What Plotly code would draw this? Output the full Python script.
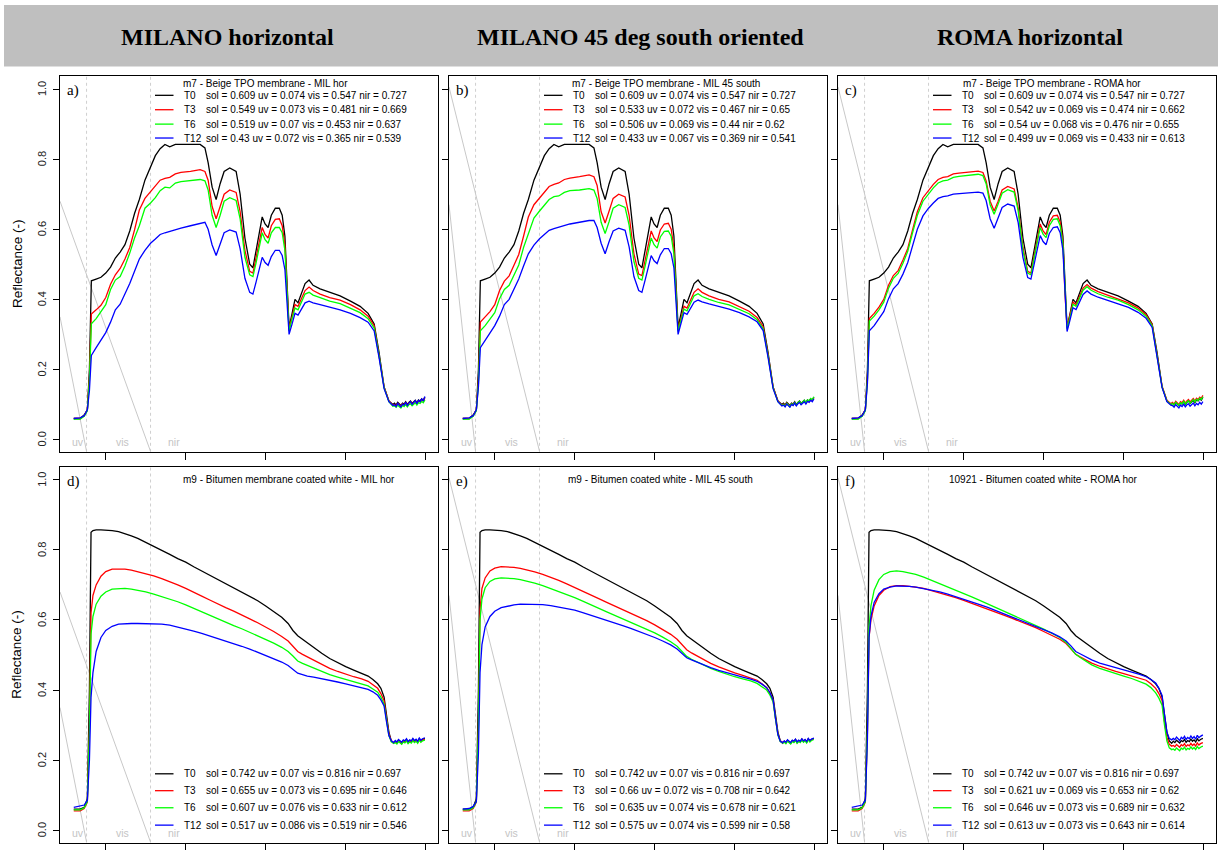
import plotly.graph_objects as go

W, H = 1218, 850

# ---------------- data ----------------
series_names = ["T0", "T3", "T6", "T12"]
series_colors = ["#000000", "#ff0000", "#00ff00", "#0000ff"]

header_titles = ["MILANO horizontal", "MILANO 45 deg south oriented", "ROMA horizontal"]
panel_tags = ["a)", "b)", "c)", "d)", "e)", "f)"]
panel_titles = [
    "m7 - Beige TPO membrane - MIL hor",
    "m7 - Beige TPO membrane - MIL 45 south",
    "m7 - Beige TPO membrane - ROMA hor",
    "m9 - Bitumen membrane coated white - MIL hor",
    "m9 - Bitumen coated white - MIL 45 south",
    "10921 - Bitumen coated white - ROMA hor",
]

# spectral band limits (nm) and band label positions
band_edges = [380, 780]
band_labels = ["uv", "vis", "nir"]
band_label_x = [327, 602, 927]

# wavelength grids (nm)
wl_tpo = [300, 340, 365, 385, 398, 410, 440, 470, 500, 530,
          560, 590, 620, 650, 680, 710, 745, 780, 810, 840,
          870, 900, 935, 970, 1030, 1090, 1120, 1140, 1165, 1190,
          1215, 1240, 1275, 1315, 1340, 1370, 1400, 1420, 1440, 1460,
          1478, 1496, 1515, 1535, 1560, 1585, 1603, 1620, 1633, 1646,
          1665, 1683, 1702, 1722, 1746, 1771, 1796, 1840, 1900, 1965,
          2030, 2090, 2140, 2178, 2208, 2240, 2270, 2295,
          2305, 2315, 2325, 2335, 2345, 2355, 2365, 2375, 2385, 2395,
          2405, 2415, 2425, 2435, 2445, 2455, 2465, 2475, 2485, 2495]

wl_bit = [300, 340, 365, 385, 398, 408, 420, 440, 470, 500,
          540, 580, 620, 660, 700, 750, 800, 850, 900, 950,
          1000, 1050, 1100, 1150, 1200, 1250, 1300, 1350, 1400, 1450,
          1500, 1550, 1600, 1640, 1670, 1700, 1730, 1760, 1800, 1850,
          1900, 1950, 2000, 2050, 2100, 2140, 2170, 2200, 2220, 2240,
          2255, 2270, 2285, 2300,
          2310, 2320, 2330, 2340, 2350, 2360, 2370, 2380, 2390, 2400,
          2410, 2420, 2430, 2440, 2450, 2460, 2470, 2480, 2495]

# m7 Beige TPO membrane - reflectance
tpo_T0 = [.060, .060, .070, .085, .200, .453, .458, .463, .475, .492,
          .518, .535, .556, .595, .645, .685, .740, .775, .810, .830,
          .842, .835, .842, .842, .842, .842, .832, .790, .720, .685,
          .730, .765, .775, .765, .700, .575, .500, .490, .540, .590,
          .635, .615, .605, .640, .660, .660, .640, .580, .430, .320,
          .360, .400, .390, .415, .445, .455, .440, .430, .420, .410,
          .395, .380, .360, .330, .250, .150, .110, .100,
          .104, .098, .106, .100, .097, .104, .101, .108, .100, .106,
          .110, .103, .109, .112, .105, .113, .110, .116, .112, .121]

mil_hor_T3 = [.060, .060, .068, .085, .180, .358, .370, .383, .405, .443,
              .470, .488, .515, .548, .598, .655, .688, .708, .725, .740,
              .745, .748, .758, .762, .765, .770, .765, .740, .665, .630,
              .665, .700, .712, .705, .650, .540, .480, .475, .520, .565,
              .605, .585, .575, .610, .628, .630, .610, .555, .410, .315,
              .350, .385, .380, .400, .425, .435, .425, .415, .405, .398,
              .385, .370, .352, .325, .245, .150, .110, .098,
              .100, .096, .103, .098, .095, .102, .099, .105, .098, .104,
              .107, .101, .106, .110, .103, .110, .108, .114, .110, .118]
mil_hor_T6 = [.058, .058, .066, .082, .170, .330, .345, .365, .385, .428,
              .455, .465, .495, .532, .575, .610, .660, .675, .690, .710,
              .720, .718, .732, .736, .738, .742, .738, .712, .640, .605,
              .640, .680, .690, .682, .630, .520, .470, .465, .505, .550,
              .590, .570, .560, .590, .605, .605, .590, .540, .400, .310,
              .345, .375, .370, .390, .415, .420, .412, .405, .395, .388,
              .375, .362, .345, .318, .240, .148, .108, .095,
              .096, .092, .098, .094, .090, .097, .094, .100, .093, .099,
              .102, .096, .101, .105, .098, .105, .103, .109, .105, .113]
mil_hor_T12 = [.060, .062, .068, .085, .140, .240, .262, .285, .305, .335,
               .370, .386, .415, .445, .480, .515, .540, .560, .572, .585,
               .590, .594, .600, .603, .610, .618, .620, .600, .555, .525,
               .560, .590, .598, .592, .545, .460, .420, .415, .450, .490,
               .520, .505, .497, .522, .540, .540, .525, .485, .380, .300,
               .330, .360, .355, .370, .390, .395, .390, .385, .378, .370,
               .360, .348, .335, .310, .235, .145, .108, .097,
               .099, .094, .103, .097, .093, .101, .098, .106, .097, .104,
               .108, .100, .107, .111, .102, .112, .108, .116, .110, .123]

mil_45_T3 = [.060, .060, .068, .085, .170, .335, .350, .365, .385, .425,
             .452, .467, .497, .528, .580, .635, .670, .690, .708, .722,
             .728, .732, .742, .746, .750, .755, .750, .725, .650, .618,
             .652, .688, .700, .692, .640, .530, .472, .468, .512, .556,
             .595, .575, .565, .598, .615, .617, .600, .545, .405, .312,
             .347, .380, .375, .395, .420, .430, .420, .410, .400, .393,
             .380, .366, .348, .322, .243, .150, .110, .098,
             .101, .096, .104, .098, .095, .103, .099, .106, .098, .104,
             .108, .101, .107, .110, .104, .111, .108, .114, .111, .118]
mil_45_T6 = [.058, .058, .066, .082, .160, .310, .325, .343, .362, .402,
             .428, .440, .468, .498, .548, .588, .632, .652, .668, .685,
             .693, .695, .705, .710, .712, .716, .712, .688, .620, .588,
             .622, .660, .670, .662, .612, .508, .460, .455, .495, .538,
             .575, .556, .546, .578, .594, .595, .580, .530, .395, .308,
             .342, .372, .367, .386, .410, .416, .408, .400, .391, .384,
             .372, .359, .342, .316, .240, .148, .108, .097,
             .100, .095, .103, .097, .094, .102, .099, .106, .098, .105,
             .109, .102, .108, .112, .105, .113, .110, .117, .113, .122]
mil_45_T12 = [.060, .062, .068, .085, .150, .262, .283, .305, .325, .352,
              .385, .400, .428, .458, .495, .530, .555, .573, .585, .597,
              .602, .606, .612, .615, .620, .625, .625, .605, .560, .530,
              .565, .595, .603, .597, .550, .465, .425, .420, .455, .495,
              .525, .510, .502, .527, .545, .545, .530, .490, .383, .300,
              .332, .362, .357, .372, .392, .398, .393, .387, .380, .372,
              .362, .350, .336, .311, .236, .145, .108, .096,
              .098, .093, .101, .096, .092, .100, .097, .104, .096, .102,
              .106, .099, .105, .108, .101, .109, .106, .112, .108, .116]

roma_hor_T3 = [.060, .060, .068, .085, .175, .345, .360, .378, .400, .440,
               .468, .482, .512, .545, .598, .650, .690, .712, .728, .742,
               .748, .750, .758, .760, .763, .766, .762, .738, .680, .652,
               .680, .712, .722, .715, .662, .548, .480, .475, .525, .575,
               .615, .595, .585, .620, .638, .640, .620, .565, .415, .320,
               .355, .392, .385, .405, .432, .442, .432, .422, .412, .403,
               .390, .375, .356, .328, .248, .152, .112, .102,
               .106, .101, .109, .104, .100, .108, .105, .112, .104, .110,
               .114, .107, .113, .117, .110, .118, .114, .121, .117, .126]
roma_hor_T6 = [.058, .058, .066, .082, .170, .338, .352, .370, .392, .432,
               .460, .474, .503, .537, .590, .640, .680, .702, .718, .732,
               .738, .740, .748, .751, .754, .757, .753, .730, .670, .643,
               .672, .703, .713, .706, .654, .540, .475, .470, .518, .566,
               .605, .586, .576, .610, .628, .630, .610, .557, .410, .315,
               .350, .386, .380, .400, .426, .436, .426, .416, .406, .398,
               .385, .370, .352, .325, .245, .150, .110, .100,
               .103, .098, .106, .101, .097, .105, .102, .109, .101, .107,
               .111, .104, .110, .114, .107, .115, .111, .118, .114, .122]
roma_hor_T12 = [.060, .062, .068, .085, .160, .310, .325, .345, .365, .402,
                .430, .445, .472, .505, .555, .600, .638, .660, .675, .688,
                .693, .695, .700, .702, .704, .706, .703, .682, .630, .603,
                .632, .662, .672, .666, .620, .520, .462, .458, .500, .545,
                .582, .565, .556, .588, .605, .607, .590, .540, .400, .308,
                .342, .376, .371, .390, .414, .424, .415, .406, .397, .389,
                .377, .363, .346, .320, .242, .148, .108, .098,
                .097, .092, .100, .095, .090, .098, .094, .101, .093, .099,
                .102, .095, .100, .104, .096, .103, .099, .106, .101, .108]

# m9 / 10921 bitumen coated white - reflectance
bit_T0 = [.060, .060, .065, .090, .400, .850, .855, .857, .857, .857,
          .855, .852, .847, .840, .833, .822, .810, .798, .787, .775,
          .765, .752, .740, .727, .715, .703, .692, .680, .668, .655,
          .640, .625, .608, .590, .570, .555, .545, .535, .520, .505,
          .490, .478, .467, .457, .448, .440, .430, .418, .405, .380,
          .330, .280, .255, .248,
          .254, .250, .257, .252, .249, .256, .253, .259, .251, .256,
          .253, .260, .254, .258, .252, .261, .255, .259, .262]

bit_mil_hor_T3 = [.055, .055, .062, .080, .300, .620, .670, .700, .725, .738,
                  .745, .746, .745, .742, .738, .732, .726, .718, .710, .700,
                  .690, .680, .668, .657, .645, .635, .625, .615, .603, .592,
                  .580, .567, .553, .540, .525, .510, .502, .495, .485, .473,
                  .462, .453, .445, .438, .432, .425, .415, .405, .390, .370,
                  .320, .275, .255, .250,
                  .252, .248, .255, .250, .247, .254, .251, .257, .249, .254,
                  .251, .258, .252, .256, .250, .259, .253, .257, .260]
bit_mil_hor_T6 = [.058, .058, .064, .082, .280, .560, .610, .645, .668, .680,
                  .688, .690, .690, .688, .685, .680, .674, .667, .660, .652,
                  .643, .633, .622, .612, .603, .593, .584, .575, .565, .555,
                  .545, .534, .522, .510, .497, .483, .476, .470, .462, .452,
                  .444, .437, .430, .424, .418, .412, .403, .394, .380, .360,
                  .315, .270, .252, .248,
                  .250, .246, .253, .248, .245, .252, .249, .255, .247, .252,
                  .249, .256, .250, .254, .248, .257, .251, .255, .257]
bit_mil_hor_T12 = [.065, .068, .072, .085, .200, .380, .450, .510, .550, .570,
                   .582, .588, .590, .590, .590, .590, .590, .588, .585, .580,
                   .575, .568, .562, .555, .548, .540, .532, .525, .517, .508,
                   .500, .490, .480, .470, .460, .448, .444, .440, .437, .433,
                   .428, .423, .418, .413, .408, .402, .395, .385, .372, .355,
                   .310, .270, .255, .250,
                   .256, .252, .259, .254, .251, .258, .255, .261, .253, .258,
                   .255, .262, .256, .260, .254, .263, .257, .261, .264]

bit_mil_45_T3 = [.055, .055, .062, .080, .300, .630, .690, .720, .740, .748,
                 .752, .752, .750, .747, .743, .737, .730, .722, .713, .703,
                 .693, .683, .672, .661, .650, .640, .630, .620, .609, .598,
                 .586, .573, .559, .545, .530, .515, .506, .498, .488, .476,
                 .466, .457, .449, .442, .435, .428, .418, .407, .392, .372,
                 .320, .275, .255, .250,
                 .253, .249, .256, .251, .248, .255, .252, .258, .250, .255,
                 .252, .259, .253, .257, .251, .260, .254, .258, .261]
bit_mil_45_T6 = [.058, .058, .064, .082, .290, .600, .660, .692, .710, .717,
                 .720, .720, .718, .715, .711, .705, .698, .690, .682, .673,
                 .664, .654, .643, .633, .623, .613, .603, .594, .584, .574,
                 .563, .551, .538, .525, .511, .496, .488, .481, .472, .462,
                 .453, .445, .438, .432, .426, .419, .410, .400, .386, .366,
                 .318, .272, .253, .249,
                 .251, .247, .254, .249, .246, .253, .250, .256, .248, .253,
                 .250, .257, .251, .255, .249, .258, .252, .256, .259]
bit_mil_45_T12 = [.060, .062, .068, .082, .220, .450, .530, .580, .610, .625,
                  .635, .640, .643, .645, .645, .645, .644, .641, .637, .633,
                  .628, .621, .614, .607, .600, .592, .584, .576, .568, .560,
                  .550, .540, .529, .517, .505, .492, .486, .480, .472, .464,
                  .456, .449, .443, .437, .431, .425, .417, .407, .393, .372,
                  .320, .273, .254, .250,
                  .255, .251, .258, .253, .250, .257, .254, .260, .252, .257,
                  .254, .261, .255, .259, .253, .262, .256, .260, .263]

bit_roma_hor_T3 = [.055, .055, .062, .080, .280, .550, .600, .640, .670, .685,
                   .695, .698, .698, .697, .694, .690, .684, .678, .671, .664,
                   .656, .648, .640, .631, .622, .614, .605, .596, .588, .578,
                   .567, .556, .545, .533, .518, .502, .494, .487, .477, .468,
                   .460, .453, .447, .441, .435, .428, .418, .405, .390, .370,
                   .310, .265, .245, .240,
                   .242, .238, .245, .240, .237, .244, .241, .247, .239, .244,
                   .241, .248, .242, .246, .240, .249, .243, .247, .250]
bit_roma_hor_T6 = [.058, .058, .064, .082, .290, .580, .640, .685, .715, .730,
                   .738, .740, .738, .735, .730, .722, .713, .703, .694, .685,
                   .676, .666, .656, .646, .636, .626, .616, .606, .596, .585,
                   .574, .562, .550, .536, .520, .502, .492, .484, .472, .462,
                   .454, .447, .440, .433, .425, .417, .407, .392, .377, .357,
                   .300, .255, .235, .230,
                   .232, .228, .235, .230, .227, .234, .231, .237, .229, .234,
                   .231, .238, .232, .236, .230, .239, .233, .237, .240]
bit_roma_hor_T12 = [.065, .068, .072, .085, .260, .550, .610, .650, .675, .688,
                    .694, .697, .697, .696, .694, .690, .685, .680, .674, .667,
                    .660, .652, .644, .636, .627, .619, .610, .601, .592, .583,
                    .573, .563, .552, .540, .526, .510, .503, .496, .486, .477,
                    .470, .463, .457, .451, .445, .438, .430, .420, .405, .385,
                    .330, .280, .262, .258,
                    .262, .258, .266, .260, .256, .265, .261, .268, .259, .265,
                    .261, .269, .262, .267, .260, .271, .264, .268, .272]

# integrated reflectance values printed in each legend (sol, uv, vis, nir)
stats_a = [[0.609, 0.074, 0.547, 0.727], [0.549, 0.073, 0.481, 0.669],
           [0.519, 0.07, 0.453, 0.637], [0.43, 0.072, 0.365, 0.539]]
stats_b = [[0.609, 0.074, 0.547, 0.727], [0.533, 0.072, 0.467, 0.65],
           [0.506, 0.069, 0.44, 0.62], [0.433, 0.067, 0.369, 0.541]]
stats_c = [[0.609, 0.074, 0.547, 0.727], [0.542, 0.069, 0.474, 0.662],
           [0.54, 0.068, 0.476, 0.655], [0.499, 0.069, 0.433, 0.613]]
stats_d = [[0.742, 0.07, 0.816, 0.697], [0.655, 0.073, 0.695, 0.646],
           [0.607, 0.076, 0.633, 0.612], [0.517, 0.086, 0.519, 0.546]]
stats_e = [[0.742, 0.07, 0.816, 0.697], [0.66, 0.072, 0.708, 0.642],
           [0.635, 0.074, 0.678, 0.621], [0.575, 0.074, 0.599, 0.58]]
stats_f = [[0.742, 0.07, 0.816, 0.697], [0.621, 0.069, 0.653, 0.62],
           [0.646, 0.073, 0.689, 0.632], [0.613, 0.073, 0.643, 0.614]]

# grey guide lines (wavelength nm, reflectance) for each panel
guide_top_first = ([214, 780], [0.68, -0.034])
guide_top_second = ([214, 380], [0.35, -0.034])
guide_side_first = ([214, 780], [1.006, -0.034])
guide_side_second = ([214, 380], [0.67, -0.034])

panels = [
    (wl_tpo, [tpo_T0, mil_hor_T3, mil_hor_T6, mil_hor_T12], stats_a, [guide_top_first, guide_top_second]),
    (wl_tpo, [tpo_T0, mil_45_T3, mil_45_T6, mil_45_T12], stats_b, [guide_side_first, guide_side_second]),
    (wl_tpo, [tpo_T0, roma_hor_T3, roma_hor_T6, roma_hor_T12], stats_c, [guide_side_first, guide_side_second]),
    (wl_bit, [bit_T0, bit_mil_hor_T3, bit_mil_hor_T6, bit_mil_hor_T12], stats_d, [guide_top_first, guide_top_second]),
    (wl_bit, [bit_T0, bit_mil_45_T3, bit_mil_45_T6, bit_mil_45_T12], stats_e, [guide_side_first, guide_side_second]),
    (wl_bit, [bit_T0, bit_roma_hor_T3, bit_roma_hor_T6, bit_roma_hor_T12], stats_f, [guide_side_first, guide_side_second]),
]

x_range = [214, 2577]
y_range = [-0.035, 1.036]
x_ticks = [500, 1000, 1500, 2000, 2500]
y_ticks = [0.0, 0.2, 0.4, 0.6, 0.8, 1.0]
y_tick_text = ["0.0", "0.2", "0.4", "0.6", "0.8", "1.0"]

# ---------------- layout geometry (pixels) ----------------
col_left = [60, 449, 838]
row_top = [77, 470.5]
panel_w = 378
panel_h = 378
title_cx = [265.5, 665.7, 1051.7, 289, 661, 1043]
header_cx = [227, 640, 1030]


def fx(x):
    return x / W


def fy(y):
    return 1 - y / H


def fmt(v):
    return f"{v:g}"


fig = go.Figure()
shapes = []
annotations = []
layout_axes = {}

SANS = "Liberation Sans"
SERIF = "Liberation Serif"
LEG_SIZE = 10

for i, (wl, curves, stats, guides) in enumerate(panels):
    r, c = divmod(i, 3)
    n = i + 1
    xa = "x" if n == 1 else f"x{n}"
    ya = "y" if n == 1 else f"y{n}"
    left = col_left[c]
    top = row_top[r]

    layout_axes["xaxis" if n == 1 else f"xaxis{n}"] = dict(
        domain=[fx(left), fx(left + panel_w)], anchor=ya, range=x_range,
        showgrid=False, zeroline=False, showline=True, mirror=True,
        linecolor="#000000", linewidth=1.2, ticks="outside", ticklen=7,
        tickwidth=1.2, tickcolor="#000000", tickvals=x_ticks, showticklabels=False,
    )
    layout_axes["yaxis" if n == 1 else f"yaxis{n}"] = dict(
        domain=[fy(top + panel_h), fy(top)], anchor=xa, range=y_range,
        showgrid=False, zeroline=False, showline=True, mirror=True,
        linecolor="#000000", linewidth=1.2, ticks="outside", ticklen=6,
        tickwidth=1.2, tickcolor="#000000", tickvals=y_ticks, showticklabels=False,
    )

    # rotated y tick labels on the left column
    if c == 0:
        for tv, tt in zip(y_ticks, y_tick_text):
            annotations.append(dict(x=fx(42), y=tv, xref="paper", yref=ya, text=tt,
                                    textangle=-90, showarrow=False, xanchor="center",
                                    yanchor="middle",
                                    font=dict(family=SANS, size=11, color="#222222")))

    # grey guide lines
    for gx, gy in guides:
        fig.add_trace(go.Scatter(x=gx, y=gy, mode="lines", xaxis=xa, yaxis=ya,
                                 line=dict(color="#c8c8c8", width=1), showlegend=False,
                                 hoverinfo="skip"))

    # band limits
    for edge in band_edges:
        shapes.append(dict(type="line", xref=xa, yref=f"{ya} domain", x0=edge, x1=edge,
                           y0=0, y1=1, line=dict(color="#cfcfcf", width=1, dash="dot"),
                           layer="below"))
    for lab, lx in zip(band_labels, band_label_x):
        annotations.append(dict(x=lx, y=-0.008, xref=xa, yref=ya, text=lab, showarrow=False,
                                font=dict(family=SANS, size=10.5, color="#c4c4c4"),
                                xanchor="center", yanchor="middle"))

    # reflectance curves
    for name, color, vals in zip(series_names, series_colors, curves):
        fig.add_trace(go.Scatter(x=wl, y=vals, mode="lines", xaxis=xa, yaxis=ya, name=name,
                                 line=dict(color=color, width=1.3), showlegend=False))

    # panel tag
    annotations.append(dict(x=fx(left + 5), y=fy(top + 14), xref="paper", yref="paper",
                            text=panel_tags[i], showarrow=False, xanchor="left",
                            yanchor="middle", font=dict(family=SERIF, size=15, color="#000")))

    # legend title and entries
    if r == 0:
        title_y = top + 7
        rows_y = [top + 19, top + 33.5, top + 48, top + 62]
    else:
        title_y = top + 12.5
        rows_y = [top + 308.8, top + 325.8, top + 343, top + 360.5]
    annotations.append(dict(x=fx(title_cx[i]), y=fy(title_y), xref="paper", yref="paper",
                            text=panel_titles[i], showarrow=False, xanchor="center",
                            yanchor="middle", font=dict(family=SANS, size=LEG_SIZE, color="#000")))
    for k, (name, color) in enumerate(zip(series_names, series_colors)):
        yy = rows_y[k]
        shapes.append(dict(type="line", xref="paper", yref="paper",
                           x0=fx(left + 95), x1=fx(left + 113.5), y0=fy(yy), y1=fy(yy),
                           line=dict(color=color, width=1.3)))
        annotations.append(dict(x=fx(left + 122), y=fy(yy), xref="paper", yref="paper",
                                text=name, showarrow=False, xanchor="left", yanchor="middle",
                                font=dict(family=SANS, size=LEG_SIZE, color="#000")))
        s = stats[k]
        annotations.append(dict(x=fx(left + 144), y=fy(yy), xref="paper", yref="paper",
                                text=f"sol = {fmt(s[0])} uv = {fmt(s[1])} vis = {fmt(s[2])} nir = {fmt(s[3])}",
                                showarrow=False, xanchor="left", yanchor="middle",
                                font=dict(family=SANS, size=LEG_SIZE, color="#000")))

    # y-axis title on the left column
    if c == 0:
        annotations.append(dict(x=fx(17), y=fy(top + panel_h / 2), xref="paper", yref="paper",
                                text="Reflectance (-)", textangle=-90, showarrow=False,
                                xanchor="center", yanchor="middle",
                                font=dict(family=SANS, size=13.5, color="#000")))

# header band with column titles
shapes.insert(0, dict(type="rect", xref="paper", yref="paper", x0=fx(4), x1=1,
                      y0=fy(67), y1=fy(5), fillcolor="#bfbfbf", line=dict(width=0),
                      layer="below"))
for t, cx in zip(header_titles, header_cx):
    annotations.append(dict(x=fx(cx), y=fy(37), xref="paper", yref="paper",
                            text=f"<b>{t}</b>", showarrow=False, xanchor="center",
                            yanchor="middle", font=dict(family=SERIF, size=24, color="#000")))

fig.update_layout(
    width=W, height=H, margin=dict(l=0, r=0, t=0, b=0),
    paper_bgcolor="#ffffff", plot_bgcolor="#ffffff",
    font=dict(family=SANS), showlegend=False,
    shapes=shapes, annotations=annotations, **layout_axes,
)

fig.write_html("out.html")
